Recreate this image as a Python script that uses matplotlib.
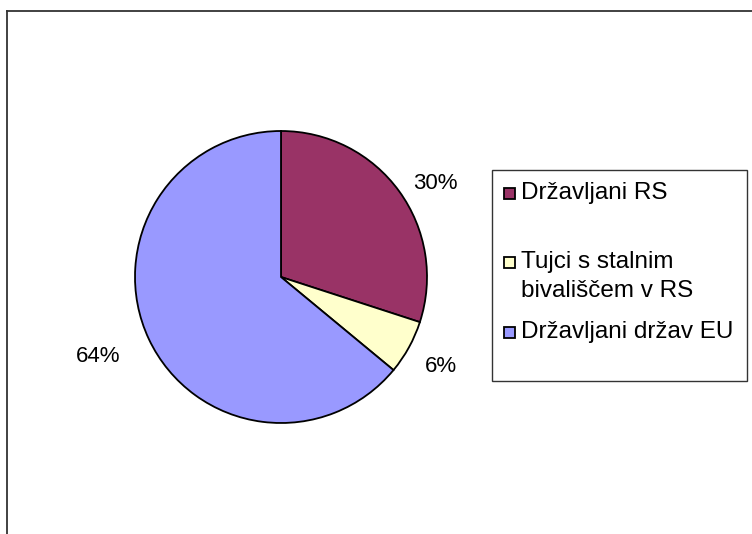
import matplotlib
matplotlib.use("Agg")
import matplotlib.pyplot as plt
from matplotlib.patches import Rectangle
from matplotlib.lines import Line2D
from matplotlib.transforms import offset_copy

plt.rcParams['font.family'] = ['Liberation Sans', 'DejaVu Sans']

# data
categories = ["Državljani RS", "Tujci s stalnim\nbivališčem v RS", "Državljani držav EU"]
shares = [30, 6, 64]
colors = ["#993366", "#FFFFCC", "#9999FF"]
pct_labels = [f"{v}%" for v in shares]

W, H = 752, 534
fig = plt.figure(figsize=(W / 100, H / 100), dpi=100)

def px(x, y):
    # pixel coords (from top-left) -> figure fraction
    return x / W, 1 - y / H

# outer frame (top and left edges only, the rest is cut off)
fig.add_artist(Line2D([7 / W, 1], [1 - 11 / H] * 2, color="#333333", lw=1.3))
fig.add_artist(Line2D([7 / W] * 2, [0, 1 - 11 / H], color="#333333", lw=1.3))

# pie
cx, cy, r = 281, 277, 146
ax = fig.add_axes([(cx - r) / W, (H - cy - r) / H, 2 * r / W, 2 * r / H])
wedges, texts = ax.pie(shares, colors=colors, startangle=90, counterclock=False,
                       labels=pct_labels, labeldistance=1.17,
                       wedgeprops=dict(edgecolor="black", linewidth=1.3),
                       textprops=dict(fontsize=16))
for t in texts:
    t.set_transform(offset_copy(t.get_transform(), fig=fig, x=-6, y=-7, units="dots"))
ax.set_xlim(-1, 1)
ax.set_ylim(-1, 1)
ax.set_aspect("equal")
ax.axis("off")

# legend box
x0, y0 = px(492, 381)
x1, y1 = px(747, 170)
fig.add_artist(Rectangle((x0, y0), x1 - x0, y1 - y0, transform=fig.transFigure,
                         facecolor="white", edgecolor="#333333", lw=1.0))

marker_y = [193, 262, 332]
for label, col, my in zip(categories, colors, marker_y):
    mx0, my0 = px(504, my + 6)
    fig.add_artist(Rectangle((mx0, my0), 11 / W, 11 / H, transform=fig.transFigure,
                             facecolor=col, edgecolor="black", lw=1.3))
    tx, ty = px(521, my - 11)
    fig.text(tx, ty, label, fontsize=17.5, ha="left", va="top", linespacing=1.4)

fig.savefig("out.png", dpi=100)
